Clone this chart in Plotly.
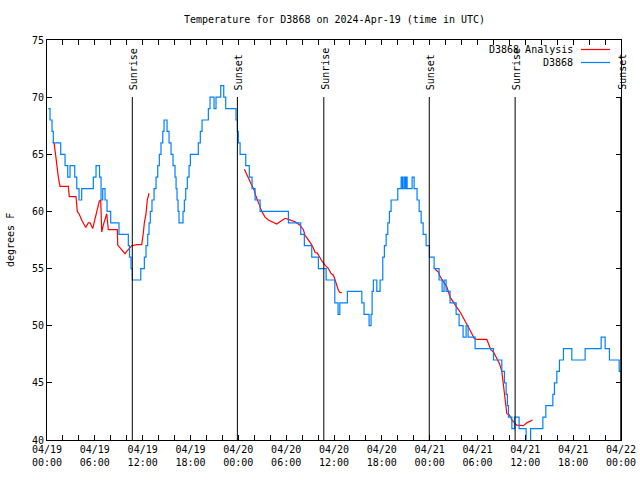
import pandas as pd
import plotly.graph_objects as go

# ---------------- data (hours after 2024-04-19 00:00 UTC, degrees F) ----------------
base = pd.Timestamp("2024-04-19 00:00")

obs_hours = [0.16, 0.38, 0.63, 0.79, 1.72, 2.26, 2.6, 2.89, 3.48, 3.73, 4.02, 4.35, 5.81, 6.15,
             6.59, 6.78, 6.99, 7.28, 7.53, 7.99, 9.03, 10.2, 10.35, 10.54, 10.7, 11.76, 12.21,
             12.42, 12.63, 12.8, 12.96, 13.17, 13.43, 13.68, 13.89, 14.09, 14.3, 14.52, 14.68,
             15.06, 15.31, 15.56, 15.81, 16.06, 16.19, 16.31, 16.44, 16.56, 17.06, 17.23, 17.4,
             17.6, 17.82, 17.98, 18.98, 19.23, 19.45, 20.24, 20.45, 20.95, 21.2, 21.79, 22.17,
             22.42, 23.71, 23.88, 24.0, 24.22, 24.93, 25.38, 25.72, 26.1, 26.73, 30.28, 31.83,
             32.28, 33.21, 34.04, 35.01, 36.1, 36.51, 36.73, 37.68, 39.49, 39.77, 40.4, 40.65,
             40.78, 40.94, 41.37, 41.78, 42.12, 42.32, 42.54, 42.75, 42.95, 43.16, 44.0, 44.42,
             44.58, 44.76, 44.92, 45.04, 45.17, 45.8, 46.05, 46.42, 46.68, 46.93, 47.18, 47.55,
             47.97, 48.56, 49.18, 49.56, 49.81, 50.06, 50.56, 51.32, 51.69, 52.19, 52.57, 52.82,
             53.7, 56.0, 57.05, 57.38, 57.59, 57.75, 57.88, 58.31, 58.64, 59.22, 60.1, 60.66,
             62.2, 62.57, 63.45, 63.65, 63.95, 64.28, 64.78, 65.83, 67.5, 69.51, 70.01, 70.55,
             71.77, 72.0]
obs_temps = [69, 68, 67, 66, 65, 64, 63, 64, 63, 62, 61, 62, 63, 64,
             63, 61, 62, 61, 60, 59, 58, 57, 56, 55, 54, 55, 56,
             57, 58, 59, 60, 61, 62, 63, 64, 65, 66, 67, 68,
             67, 66, 65, 64, 63, 62, 61, 60, 59, 60, 61, 62,
             63, 64, 65, 66, 67, 68, 69, 70, 69, 70, 71, 70,
             69, 68, 67, 66, 65, 64, 63, 62, 61, 60, 59, 58,
             57, 56, 55, 54, 52, 51, 52, 53, 52, 51, 50, 51,
             53, 54, 53, 54, 56, 57, 58, 59, 60, 61, 62, 63,
             62, 63, 62, 63, 62, 63, 62, 61, 60, 59, 58, 57,
             56, 55, 54, 53, 54, 53, 52, 51, 50, 49, 50, 49,
             48, 47, 46, 45, 44, 43, 42, 41, 42, 41, 39, 41,
             42, 43, 44, 45, 46, 47, 48, 47, 48, 49, 48, 47,
             46, 46]

ana1_hours = [0.72, 0.88, 1.09, 1.22, 1.42, 1.63, 2.67, 2.8, 3.64, 3.8, 4.02, 4.35, 4.64, 4.86,
              5.18, 5.4, 5.73, 5.9, 6.15, 6.31, 6.56, 6.74, 6.86, 7.06, 7.28, 7.49, 7.69, 8.82,
              8.87, 9.16, 9.5, 9.79, 10.0, 10.33, 10.63, 11.25, 11.88, 12.08, 12.21, 12.42,
              12.58, 12.8]
ana1_temps = [66.1, 66.0, 64.9, 63.9, 63.0, 62.2, 62.2, 61.3, 61.3, 60.0, 59.8, 59.25, 58.8, 58.6,
              59.0, 59.0, 58.5, 59.0, 59.8, 60.4, 60.9, 61.0, 58.2, 58.8, 59.4, 59.8, 58.4, 58.4,
              57.06, 56.8, 56.5, 56.3, 56.5, 56.8, 57.0, 57.1, 57.1, 58.1, 59.0, 59.8,
              61.0, 61.6]

ana2_hours = [24.76, 25.06, 25.38, 25.68, 25.97, 26.22, 26.51, 26.73, 26.94, 27.35, 27.77, 28.4,
              28.82, 29.23, 29.86, 30.28, 31.12, 31.74, 32.16, 32.37, 32.79, 33.09, 33.41, 33.63,
              33.91, 34.25, 34.54, 34.88, 35.3, 35.6, 35.93, 36.14, 36.35, 36.55, 36.76, 36.98]
ana2_temps = [63.7, 63.3, 62.75, 62.3, 61.9, 61.3, 60.85, 60.4, 60.0, 59.5, 59.25, 59.0,
              58.9, 59.1, 59.4, 59.3, 59.1, 58.8, 58.4, 57.9, 57.55, 57.2, 56.8, 56.4,
              56.35, 55.9, 55.6, 55.3, 55.0, 54.6, 54.4, 54.0, 53.6, 53.1, 52.9, 52.9]

ana3_hours = [48.68, 49.1, 49.31, 49.72, 50.15, 50.56, 50.98, 51.41, 51.82, 52.23, 52.66, 53.07,
              53.58, 53.91, 55.17, 55.37, 55.67, 56.0, 56.42, 56.75, 57.05, 57.25, 57.47, 57.68,
              58.0, 58.31, 58.93, 59.76, 60.18, 60.9]
ana3_temps = [54.94, 54.7, 54.3, 53.9, 53.4, 52.5, 52.0, 51.6, 51.2, 50.7, 50.2, 49.6,
              48.9, 48.8, 48.8, 48.4, 47.9, 47.7, 47.15, 46.7, 46.0, 44.7, 43.5, 42.3,
              42.2, 41.75, 41.3, 41.25, 41.5, 41.75]

sun_hours = [10.7, 23.88, 34.72, 47.95, 58.72, 71.97]
sun_labels = ["Sunrise", "Sunset", "Sunrise", "Sunset", "Sunrise", "Sunset"]

y_ticks = [40, 45, 50, 55, 60, 65, 70, 75]
x_tick_hours = list(range(0, 73, 2))
x_label_every = 6

title_text = "Temperature for D3868 on 2024-Apr-19 (time in UTC)"
series_names = ["D3868 Analysis", "D3868"]

# ---------------- build ----------------
def t(h):
    return base + pd.Timedelta(hours=h)

ana_x, ana_y = [], []
for hs, ts in [(ana1_hours, ana1_temps), (ana2_hours, ana2_temps), (ana3_hours, ana3_temps)]:
    ana_x += [t(h) for h in hs] + [None]
    ana_y += list(ts) + [None]

FONT = "DejaVu Sans Mono"
FS = 10
RED = "#ff0000"
BLUE = "#0080ff"

fig = go.Figure()
fig.add_trace(go.Scatter(x=ana_x, y=ana_y, mode="lines", name=series_names[0],
                         line=dict(color=RED, width=1.2), connectgaps=False))
fig.add_trace(go.Scatter(x=[t(h) for h in obs_hours], y=obs_temps, mode="lines",
                         name=series_names[1], line=dict(color=BLUE, width=1.2, shape="hv")))

tickvals = [t(h) for h in x_tick_hours]
ticktext = [(t(h).strftime("%m/%d") + "<br>" + t(h).strftime("%H:%M")) if h % x_label_every == 0 else ""
            for h in x_tick_hours]

shapes = []
annotations = []
line_top = (440 - 97) / 400
for h, lab in zip(sun_hours, sun_labels):
    shapes.append(dict(type="line", xref="x", yref="paper", x0=t(h), x1=t(h), y0=0, y1=line_top,
                       line=dict(color="black", width=1)))
    annotations.append(dict(x=t(h), xref="x", y=(440 - 92) / 400, yref="paper", text=lab,
                            textangle=-90, showarrow=False, xanchor="center", yanchor="bottom",
                            xshift=1, font=dict(family=FONT, size=FS, color="black")))

# legend (gnuplot style: text then sample line)
leg_y = [(440 - 49.5) / 400, (440 - 62.5) / 400]
for name, col, yy in zip(series_names, [RED, BLUE], leg_y):
    annotations.append(dict(x=(575 - 47) / 574, xref="paper", y=yy, yref="paper", text=name,
                            showarrow=False, xanchor="right", yanchor="middle",
                            font=dict(family=FONT, size=FS, color="black")))
    shapes.append(dict(type="line", xref="paper", yref="paper", x0=(581 - 47) / 574,
                       x1=(610 - 47) / 574, y0=yy, y1=yy, line=dict(color=col, width=1.2)))

annotations.append(dict(x=0.5, xref="paper", y=(440 - 20) / 400, yref="paper", text=title_text,
                        showarrow=False, xanchor="center", yanchor="middle",
                        font=dict(family=FONT, size=FS, color="black")))
annotations.append(dict(x=-(47 - 10) / 574, xref="paper", y=0.5, yref="paper", text="degrees F",
                        textangle=-90, showarrow=False, xanchor="center", yanchor="middle",
                        font=dict(family=FONT, size=FS, color="black")))

fig.update_layout(
    width=640, height=480,
    margin=dict(l=47, r=19, t=40, b=40),
    paper_bgcolor="white", plot_bgcolor="white",
    showlegend=False,
    shapes=shapes, annotations=annotations,
    font=dict(family=FONT, size=FS, color="black"),
)
fig.update_xaxes(range=[t(0), t(72)], tickvals=tickvals, ticktext=ticktext, automargin=False,
                 ticks="inside", ticklen=5, tickcolor="black", showgrid=False, zeroline=False,
                 showline=True, linecolor="black", linewidth=1, mirror="ticks",
                 tickfont=dict(family=FONT, size=FS))
fig.update_yaxes(range=[40, 75], tickvals=y_ticks, ticks="inside", ticklen=5, tickcolor="black",
                 showgrid=False, zeroline=False, showline=True, linecolor="black", linewidth=1,
                 mirror="ticks", tickfont=dict(family=FONT, size=FS), automargin=False)

fig.write_html("out.html", config={"displayModeBar": False},
               post_script="document.body.style.margin='0';document.body.style.overflow='hidden';")
